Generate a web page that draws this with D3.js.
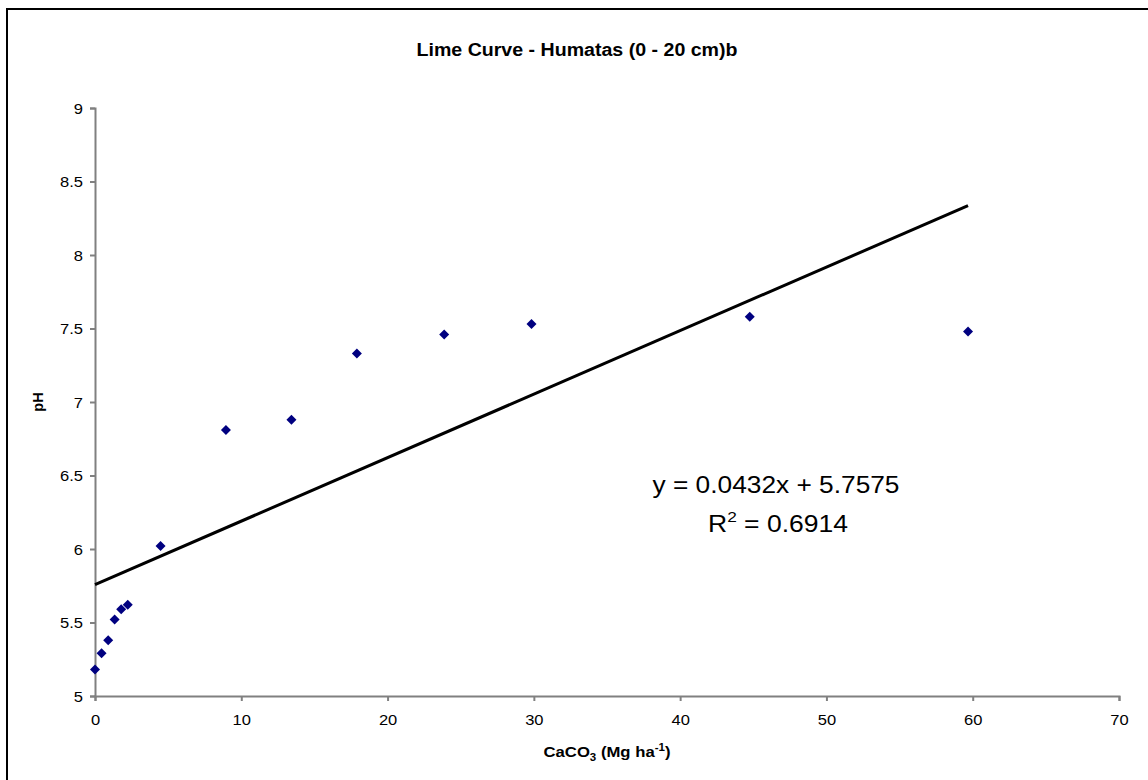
<!DOCTYPE html>
<html><head><meta charset="utf-8">
<script src="https://cdn.jsdelivr.net/npm/d3@7"></script>
<style>body{margin:0;background:#fff}svg{display:block}text{font-family:"Liberation Sans",Arial,sans-serif}</style>
</head><body>
<svg id="c" width="1148" height="780"></svg>
<script>
const caco3 = [0, 0.45, 0.9, 1.34, 1.79, 2.24, 4.48, 8.95, 13.43, 17.9, 23.87, 29.84, 44.76, 59.68];
const pH = [5.18, 5.29, 5.38, 5.52, 5.59, 5.62, 6.02, 6.81, 6.88, 7.33, 7.46, 7.53, 7.58, 7.48];
const xTicks = [0, 10, 20, 30, 40, 50, 60, 70];
const yTicks = [5, 5.5, 6, 6.5, 7, 7.5, 8, 8.5, 9];
const slope = 0.0432, intercept = 5.7575, r2 = 0.6914;
const title = "Lime Curve - Humatas (0 - 20 cm)b";

const svg = d3.select("#c");
const sx = 1.14;
svg.append("rect").attr("x",7).attr("y",9).attr("width",1170).attr("height",800)
  .attr("fill","none").attr("stroke","#000").attr("stroke-width",2);

const x = d3.scaleLinear().domain([0,70]).range([95,1119]);
const y = d3.scaleLinear().domain([5,9]).range([696,108]);

svg.append("text").attr("x",577).attr("y",56).attr("text-anchor","middle")
  .attr("font-weight","bold").attr("font-size",17.5)
  .attr("textLength",321).attr("lengthAdjust","spacingAndGlyphs").text(title);

const gx = svg.append("g").attr("transform","translate(0,696)")
  .call(d3.axisBottom(x).tickValues(xTicks).tickSize(5).tickFormat(d3.format("d")));
const gy = svg.append("g").attr("transform","translate(95,0)")
  .call(d3.axisLeft(y).tickValues(yTicks).tickSize(5).tickFormat(d=>String(d)));
[gx,gy].forEach(g=>{
  g.select(".domain").attr("stroke","#808080").attr("stroke-width",2);
  g.selectAll(".tick line").attr("stroke","#808080").attr("stroke-width",2);
  g.selectAll(".tick text").attr("fill","#000").attr("font-size",14.5)
   .attr("font-family","Liberation Sans, Arial, sans-serif");
});
gx.selectAll(".tick text").attr("y",29).attr("dy",0).attr("transform",`scale(${sx},1)`);
gy.selectAll(".tick text").attr("x",-12/sx).attr("dy","0.36em").attr("transform",`scale(${sx},1)`);

// trendline
const xMax = d3.max(caco3);
svg.append("line").attr("x1",x(0)).attr("y1",y(intercept))
  .attr("x2",x(xMax)).attr("y2",y(intercept+slope*xMax))
  .attr("stroke","#000").attr("stroke-width",3);

// points
svg.append("g").selectAll("path").data(caco3.map((v,i)=>[v,pH[i]])).join("path")
  .attr("d",d3.symbol(d3.symbolSquare,50))
  .attr("transform",d=>`translate(${x(d[0])},${y(d[1])}) rotate(45)`)
  .attr("fill","#000080");

// equation
svg.append("text").attr("x",776).attr("y",493).attr("text-anchor","middle")
  .attr("font-size",23).attr("textLength",247).attr("lengthAdjust","spacingAndGlyphs")
  .text(`y = ${slope}x + ${intercept}`);
const t2 = svg.append("text").attr("x",778).attr("y",532).attr("text-anchor","middle")
  .attr("font-size",23).attr("textLength",140).attr("lengthAdjust","spacingAndGlyphs");
t2.append("tspan").text("R");
t2.append("tspan").attr("font-size",15).attr("dy",-10).text("2");
t2.append("tspan").attr("dy",10).text(` = ${r2}`);

// axis titles
const xl = svg.append("text").attr("x",607).attr("y",757).attr("text-anchor","middle")
  .attr("font-weight","bold").attr("font-size",14.5)
  .attr("textLength",127).attr("lengthAdjust","spacingAndGlyphs");
xl.append("tspan").text("CaCO");
xl.append("tspan").attr("font-size",10).attr("dy",4).text("3");
xl.append("tspan").attr("dy",-4).text(" (Mg ha");
xl.append("tspan").attr("font-size",10).attr("dy",-6).text("-1");
xl.append("tspan").attr("dy",6).text(")");

svg.append("text").attr("transform","translate(43,402) rotate(-90)").attr("text-anchor","middle")
  .attr("font-weight","bold").attr("font-size",14.5).text("pH");
</script>
</body></html>
